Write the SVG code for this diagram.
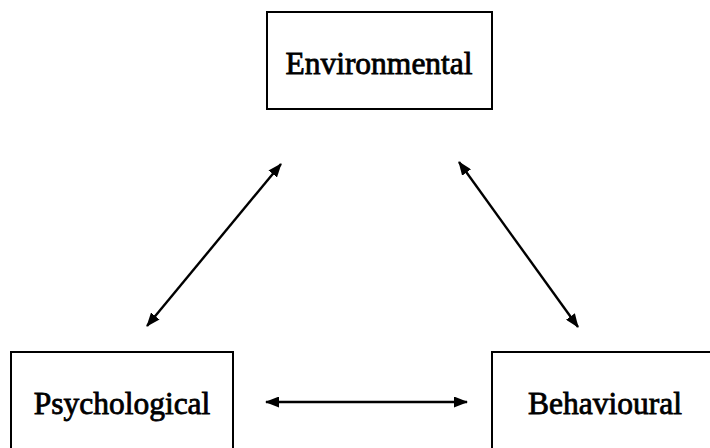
<svg xmlns="http://www.w3.org/2000/svg" width="710" height="448" viewBox="0 0 710 448">
  <style>
    .box { fill: #ffffff; stroke: #000000; stroke-width: 2; }
    .label { font-family: "Liberation Serif", "Times New Roman", serif; font-size: 31.5px; fill: #000000; stroke: #000000; stroke-width: 0.8; text-anchor: middle; }
    .link { stroke: #000000; stroke-width: 2.4; fill: none; marker-start: url(#head); marker-end: url(#head); }
  </style>
  <defs>
    <marker id="head" viewBox="0 0 14 11" refX="13" refY="5.5" markerWidth="14" markerHeight="11" markerUnits="userSpaceOnUse" orient="auto-start-reverse">
      <path d="M0,0 L14,5.5 L0,11 Z" fill="#000000"/>
    </marker>
  </defs>
  <rect width="710" height="448" fill="#ffffff"/>

  <g id="environmental">
    <rect class="box" x="267" y="12" width="225" height="97"/>
    <text class="label" x="379" y="74">Environmental</text>
  </g>

  <g id="psychological">
    <rect class="box" x="11" y="352" width="222" height="110"/>
    <text class="label" x="122" y="414">Psychological</text>
  </g>

  <g id="behavioural">
    <rect class="box" x="492" y="352" width="240" height="110"/>
    <text class="label" x="605" y="414">Behavioural</text>
  </g>

  <g id="connectors">
    <line class="link" x1="281" y1="164" x2="147" y2="326"/>
    <line class="link" x1="459" y1="162" x2="578" y2="327"/>
    <line class="link" x1="266" y1="402" x2="467" y2="402"/>
  </g>
</svg>
